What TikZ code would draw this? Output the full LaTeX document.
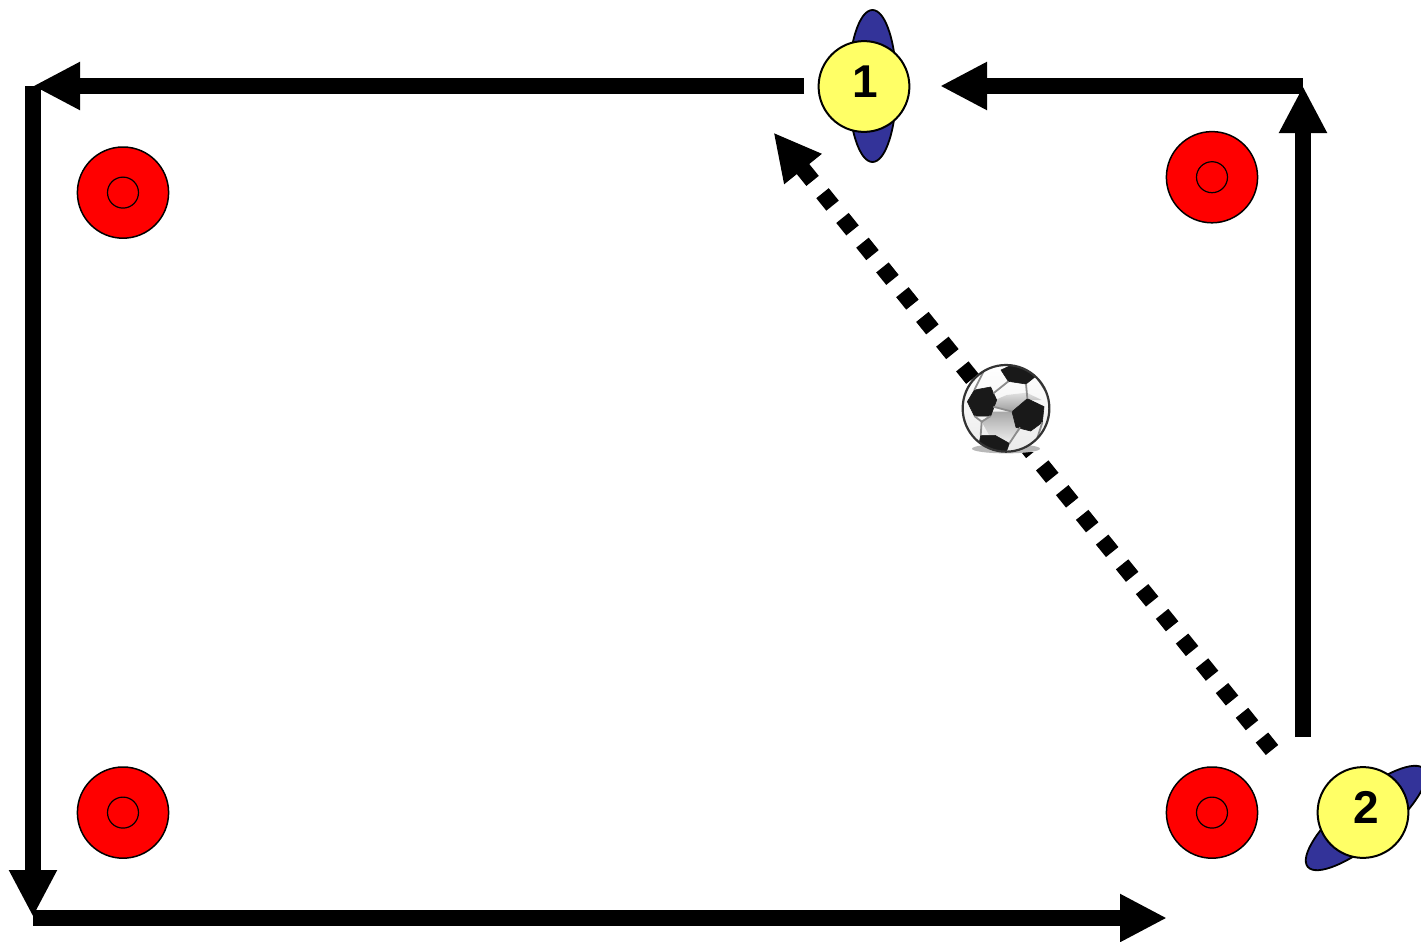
\documentclass[tikz,border=0pt]{standalone}
\usepackage{fontspec}
\setmainfont{Liberation Sans}
\usetikzlibrary{arrows.meta,shapes.geometric}
\definecolor{coneRed}{RGB}{255,0,0}
\definecolor{shirtYellow}{RGB}{255,255,102}
\definecolor{bodyBlue}{RGB}{51,51,153}
\tikzset{
  x=0.5pt,y=-0.5pt,
  run/.style={line width=8pt,-{Triangle[length=23.5pt,width=22.4pt]}},
  pass/.style={line width=8pt,dash pattern=on 8pt off 7.9pt,-{Triangle[length=23.5pt,width=22.4pt]}},
  cone/.style={circle,draw=black,fill=coneRed,line width=0.75pt,minimum size=45.6pt,inner sep=0pt},
  conehole/.style={circle,draw=black,line width=0.6pt,minimum size=15.5pt,inner sep=0pt},
  player/.style={circle,draw=black,fill=shirtYellow,line width=1pt,minimum size=45.4pt,inner sep=0pt},
  body/.style={ellipse,draw=black,fill=bodyBlue,line width=0.9pt,minimum width=24pt,minimum height=76pt,inner sep=0pt},
  num/.style={font=\fontsize{23}{23}\selectfont\bfseries,inner sep=0pt},
  patch/.style={fill=black!90,draw=black!90,line width=0.3pt,line join=round},
  seam/.style={draw=black!45,line width=0.9pt}
}
\begin{document}
\begin{tikzpicture}
\clip (0,0) rectangle (1421,942);
\fill[white] (0,0) rectangle (1421,942);
% corners
\coordinate (tr) at (1303,86);
\coordinate (tl) at (33,86);
\coordinate (bl) at (33,917);
\coordinate (blr) at (33,918);
\coordinate (br) at (1167,918);
\coordinate (rs) at (1303,737);
\coordinate (ts) at (804,86);
\coordinate (tm) at (940,86);
\coordinate (ds) at (1272,750);
\coordinate (de) at (773.5,132.5);
% cones
\foreach \n/\p in {a/{123,192.6},b/{1212,177.2},c/{123,812.6},d/{1212,812.6}}{
  \node[cone] (cone\n) at (\p) {};
  \node[conehole] at (cone\n) {};
}
% runs
\draw[run] (ts) -- (tl);
\draw[run] (tl) -- (bl);
\draw[run] (blr) -- (br);
\draw[run] (rs) -- (tr);
\draw[run] (tr) -- (tm);
% pass
\draw[pass] (ds) -- (de);
% white patch behind ball foot
\fill[white] (985,425) rectangle (1050,452);
% ball
\begin{scope}[shift={(940,350)},x=0.1667pt,y=-0.1667pt]
  \fill[black!28] (198,296) ellipse (102 and 14);
  \shade[top color=white,bottom color=black!8] (198,175) circle (130);
  \begin{scope}
    \clip (198,175) circle (130);
    \shade[top color=black!12,bottom color=black!38] (165,150) -- (200,135) -- (260,128) -- (305,150) -- (260,150) -- (218,185) -- (165,170) -- cycle;
    \shade[top color=black!34,bottom color=black!6] (160,185) -- (218,185) -- (240,240) -- (205,280) -- (150,260) -- (125,215) -- cycle;
    \fill[patch] (183,60) -- (215,45) -- (262,52) -- (288,78) -- (258,102) -- (205,94) -- cycle;
    \fill[patch] (103,120) -- (152,111) -- (170,150) -- (152,198) -- (103,198) -- (82,155) -- cycle;
    \fill[patch] (262,146) -- (312,170) -- (307,217) -- (272,243) -- (228,232) -- (216,185) -- cycle;
    \fill[patch] (122,256) -- (165,256) -- (208,280) -- (198,308) -- (150,308) -- (116,287) -- cycle;
    \draw[seam] (103,120) -- (130,66) (205,94) -- (160,130) (258,102) -- (262,146)
      (288,78) -- (328,140) (152,198) -- (125,215) -- (122,256) (160,170) -- (216,185)
      (240,232) -- (208,280) (307,217) -- (290,270) (103,198) -- (125,215);
  \end{scope}
  \draw[black!80,line width=1.1pt] (198,175) circle (130);
\end{scope}
% players
\node[body] (body1) at (872.5,86) {};
\node[player] (p1) at (864,86.5) {};
\node[num] at (865,82) {1};
\node[body,rotate=-50] (body2) at (1366,818) {};
\node[player] (p2) at (1363,812.5) {};
\node[num] at (1366,807) {2};
\end{tikzpicture}
\end{document}
